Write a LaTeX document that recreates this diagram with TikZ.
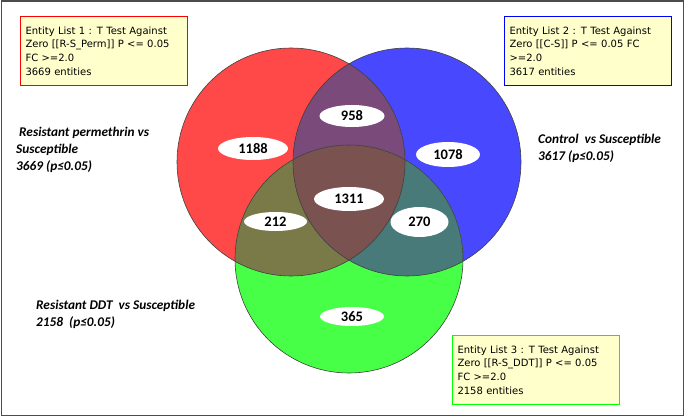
\documentclass[tikz,border=0pt]{standalone}
\usepackage{fontspec}
\setmainfont{Carlito}
\newfontfamily\listfont{DejaVu Sans}
\usepackage{tikz}
\usetikzlibrary{shapes,positioning}
\definecolor{permred}{RGB}{255,72,72}
\definecolor{ctrlblue}{RGB}{72,72,255}
\definecolor{ddtgreen}{RGB}{72,255,72}
\definecolor{rbpurple}{RGB}{122,74,122}
\definecolor{rgolive}{RGB}{122,122,72}
\definecolor{bgteal}{RGB}{72,122,122}
\definecolor{allbrown}{RGB}{122,82,80}
\definecolor{boxyellow}{RGB}{255,255,204}

\begin{document}
\begin{tikzpicture}[x=1pt,y=-1pt]
% STYLES
\tikzset{%
    setcircle/.style={%
circle,
minimum size=228pt,
inner sep=0pt,
outer sep=0pt
                     },
    setline/.style={draw=black!75, line width=0.6pt},
    countoval/.style={%
ellipse,
fill=white,
inner sep=0pt,
font=\fontsize{14.5}{16}\selectfont\bfseries
                     },
    listbox/.style={%
rectangle,
fill=boxyellow,
line width=1pt,
inner sep=5pt,
text width=157pt,
minimum height=69pt,
anchor=north west,
align=left,
font=\listfont\fontsize{10}{13.7}\selectfont
                     },
    grouplabel/.style={%
anchor=north west,
inner sep=0pt,
align=left,
font=\fontsize{13.3}{17}\selectfont\bfseries\itshape
                     }
             }
\useasboundingbox (0,0) rectangle (685,417);
\fill[white] (0,0) rectangle (685,417);
\draw[black!70, line width=1.8pt] (1.5,1) rectangle (683.5,415.5);

% Draw sets
\node [setcircle, fill=permred] (perm) at (291,162) {};
\node [setcircle, fill=ctrlblue] (ctrl) at (407,162) {};
\node [setcircle, fill=ddtgreen] (ddt) at (349,259) {};

% Overlaps
\begin{scope}
\clip (perm.center) circle[radius=114pt];
\fill[rbpurple] (ctrl.center) circle[radius=114pt];
\fill[rgolive] (ddt.center) circle[radius=114pt];
\end{scope}
\begin{scope}
\clip (ctrl.center) circle[radius=114pt];
\fill[bgteal] (ddt.center) circle[radius=114pt];
\end{scope}
\begin{scope}
\clip (perm.center) circle[radius=114pt];
\clip (ctrl.center) circle[radius=114pt];
\fill[allbrown] (ddt.center) circle[radius=114pt];
\end{scope}
\draw[setline] (perm.center) circle[radius=114pt];
\draw[setline] (ctrl.center) circle[radius=114pt];
\draw[setline] (ddt.center) circle[radius=114pt];

% Draw counts
\node [countoval, minimum width=70pt, minimum height=23pt] (onlyperm) at (253,148.5) {1188};
\node [countoval, minimum width=65pt, minimum height=22pt] (permctrl) at (352,116) {958};
\node [countoval, minimum width=64pt, minimum height=25pt] (onlyctrl) at (448,154.5) {1078};
\node [countoval, minimum width=70pt, minimum height=24pt] (allthree) at (349,199) {1311};
\node [countoval, minimum width=63pt, minimum height=19pt] (permddt) at (275.5,221.5) {212};
\node [countoval, minimum width=58pt, minimum height=30pt] (ctrlddt) at (419.5,222) {270};
\node [countoval, minimum width=64pt, minimum height=19pt] (onlyddt) at (352,316.5) {365};

% Draw entity lists
\node [listbox, draw=red] (listone) at (20,16) {\mbox{Entity List 1 : T Test Against}\\\mbox{Zero [[R-S\_Perm]] P <= 0.05}\\FC >=2.0\\3669 entities};
\node [listbox, draw=blue] (listtwo) at (504,16) {\mbox{Entity List 2 : T Test Against}\\\mbox{Zero [[C-S]] P <= 0.05 FC}\\>=2.0\\3617 entities};
\node [listbox, draw=green] (listthree) at (452,335) {\mbox{Entity List 3 : T Test Against}\\\mbox{Zero [[R-S\_DDT]] P <= 0.05}\\FC >=2.0\\2158 entities};

% Draw group labels
\node [grouplabel] (permlabel) at (16,127) {\ Resistant permethrin vs\\Susceptible\\3669 (p≤0.05)};
\node [grouplabel] (ctrllabel) at (538,134) {Control\ \ vs Susceptible\\3617 (p≤0.05)};
\node [grouplabel] (ddtlabel) at (36,300) {Resistant DDT\ \ vs Susceptible\\2158\ \ (p≤0.05)};
\end{tikzpicture}
\end{document}
